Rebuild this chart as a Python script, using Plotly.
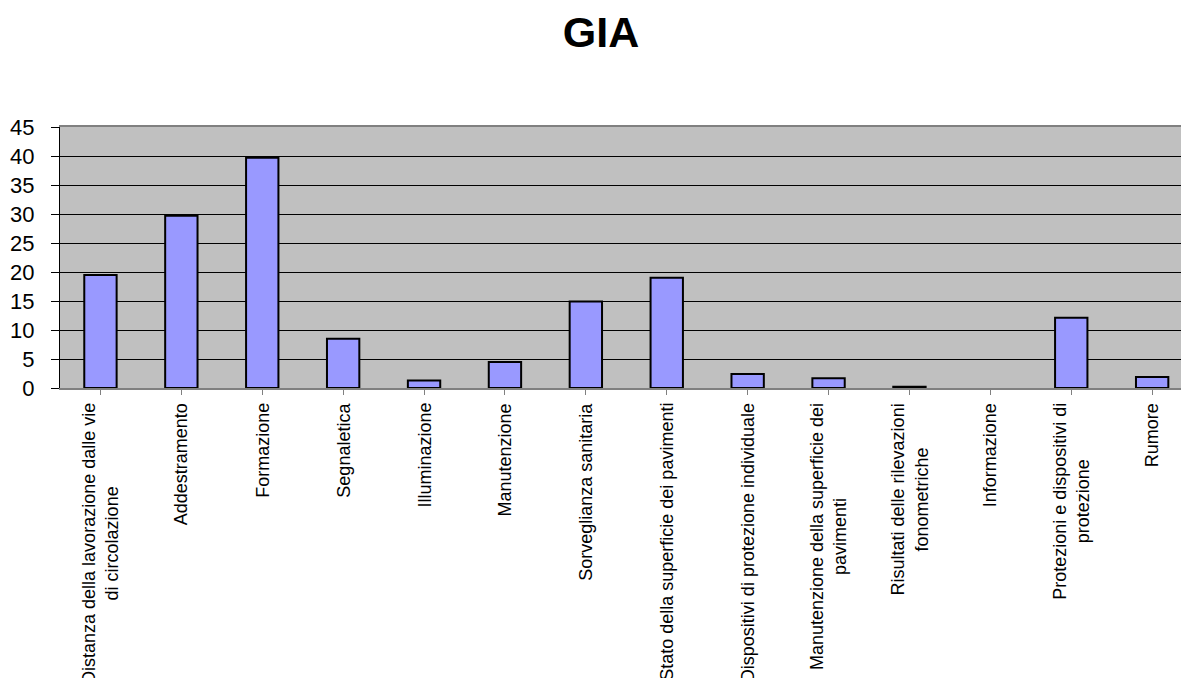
import plotly.graph_objects as go

categories = [
    "Distanza della lavorazione dalle vie<br>di circolazione",
    "Addestramento",
    "Formazione",
    "Segnaletica",
    "Illuminazione",
    "Manutenzione",
    "Sorveglianza sanitaria",
    "Stato della superficie dei pavimenti",
    "Dispositivi di protezione individuale",
    "Manutenzione della superficie dei<br>pavimenti",
    "Risultati delle rilevazioni<br>fonometriche",
    "Informazione",
    "Protezioni e dispositivi di<br>protezione",
    "Rumore",
]
values = [19.5, 29.7, 39.7, 8.5, 1.3, 4.5, 14.9, 19.0, 2.4, 1.7, 0.2, 0, 12.1, 1.9]
y_ticks = [0, 5, 10, 15, 20, 25, 30, 35, 40, 45]
title_text = "GIA"

FONT = "Arial, Liberation Sans, sans-serif"
W, H = 1181, 678
ML, MT, MB = 60, 127, 290
cat_w = 80.9
x_max = (W - ML) / cat_w - 0.5

idx = list(range(len(categories)))

fig = go.Figure()
fig.add_trace(go.Bar(
    x=idx, y=values, width=0.4,
    marker=dict(color="#9999FF",
                line=dict(color="black", width=[2 if v > 0 else 0 for v in values])),
    hoverinfo="y",
))

for i, lab in enumerate(categories):
    fig.add_annotation(
        x=i, xref="x", y=0, yref="paper", yshift=-13,
        xanchor="center", yanchor="top", textangle=-90,
        text=lab, showarrow=False, align="center",
        font=dict(family=FONT, size=18, color="black"),
    )

fig.update_layout(
    width=W, height=H,
    margin=dict(l=ML, r=0, t=MT, b=MB, pad=0),
    paper_bgcolor="white", plot_bgcolor="#C0C0C0",
    showlegend=False,
    title=dict(text="<b>" + title_text + "</b>", x=(601) / W, xanchor="center",
               y=1 - 32 / H, yanchor="middle",
               font=dict(family=FONT, size=43, color="black")),
    xaxis=dict(range=[-0.5, x_max], tickvals=idx, showticklabels=False,
               ticks="outside", tickson="boundaries", ticklen=5, tickcolor="#808080",
               tickwidth=1, showgrid=False, showline=True, linecolor="#808080",
               linewidth=1.5, mirror=True, zeroline=False, fixedrange=True),
    yaxis=dict(range=[0, 45], tickvals=y_ticks, ticks="outside", ticklen=8,
               tickcolor="black", tickwidth=1, showgrid=True, gridcolor="black",
               gridwidth=1, showline=True, linecolor="black", linewidth=1,
               zeroline=False, ticklabelstandoff=12,
               tickfont=dict(family=FONT, size=22, color="black"), fixedrange=True),
)

fig.write_html("out.html")
